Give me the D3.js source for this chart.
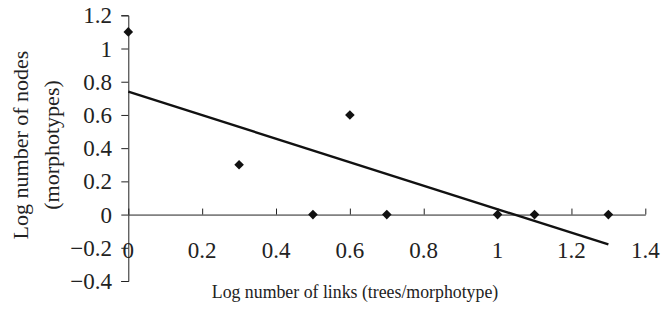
<!DOCTYPE html>
<html><head><meta charset="utf-8">
<script src="https://cdn.jsdelivr.net/npm/d3@7"></script>
<style>body{margin:0;background:#fff}svg{display:block}</style>
</head><body><svg id="c" width="672" height="336"></svg>
<script>
const xVals = [0, 0.3, 0.5, 0.6, 0.7, 1.0, 1.1, 1.3];
const yVals = [1.1, 0.3, 0, 0.6, 0, 0, 0, 0];
const trendX = [0, 1.3];
const trendY = [0.74, -0.18];
const xTicks = [0, 0.2, 0.4, 0.6, 0.8, 1, 1.2, 1.4];
const yTicks = [-0.4, -0.2, 0, 0.2, 0.4, 0.6, 0.8, 1, 1.2];
const xTitle = "Log number of links (trees/morphotype)";
const yTitle = ["Log number of nodes", "(morphotypes)"];

const FONT = "Liberation Serif, Times New Roman, serif";
const svg = d3.select("#c").attr("font-family", FONT);
const x = d3.scaleLinear().domain([0, 1.4]).range([128.3, 645.3]);
const y = d3.scaleLinear().domain([-0.4, 1.2]).range([281, 15.3]);
const col = "#222";

const xa = svg.append("g").attr("transform", `translate(0,${y(0)})`)
  .call(d3.axisTop(x).tickValues(xTicks).tickSize(6).tickSizeOuter(0).tickFormat(""));
xa.select(".domain").attr("stroke", col);
xa.selectAll(".tick line").attr("stroke", col);
svg.append("g").selectAll("text").data(xTicks).join("text")
  .attr("x", d => x(d)).attr("y", y(0) + 43)
  .attr("text-anchor", "middle").attr("font-size", 23).attr("fill", col)
  .attr("font-family", FONT)
  .text(d => d3.format("")(d));

const ya = svg.append("g").attr("transform", `translate(${x(0)},0)`)
  .call(d3.axisLeft(y).tickValues(yTicks).tickSize(7).tickSizeOuter(7).tickFormat(""));
ya.select(".domain").attr("stroke", col);
ya.selectAll(".tick line").attr("stroke", col);
svg.append("g").selectAll("text").data(yTicks).join("text")
  .attr("x", 112).attr("y", d => y(d)).attr("dy", "0.35em")
  .attr("text-anchor", "end").attr("font-size", 23).attr("fill", col)
  .attr("font-family", FONT)
  .text(d => d3.format("")(d));

svg.append("line")
  .attr("x1", x(trendX[0])).attr("y1", y(trendY[0]))
  .attr("x2", x(trendX[1])).attr("y2", y(trendY[1]))
  .attr("stroke", "#111").attr("stroke-width", 2.4);

svg.append("g").selectAll("path").data(xVals).join("path")
  .attr("transform", (d, i) => `translate(${x(d)},${y(yVals[i])})`)
  .attr("d", "M0,-4.8L4.8,0L0,4.8L-4.8,0Z")
  .attr("fill", "#111");

svg.append("text").attr("x", 355).attr("y", 298)
  .attr("text-anchor", "middle").attr("font-size", 17.8).attr("fill", col)
  .attr("font-family", FONT).text(xTitle);
const yt = svg.append("text").attr("transform", "translate(22,145) rotate(-90)")
  .attr("text-anchor", "middle").attr("font-size", 22).attr("fill", col)
  .attr("font-family", FONT);
yt.append("tspan").attr("x", 0).attr("y", 6).text(yTitle[0]);
yt.append("tspan").attr("x", 0).attr("y", 37).text(yTitle[1]);
</script></body></html>
